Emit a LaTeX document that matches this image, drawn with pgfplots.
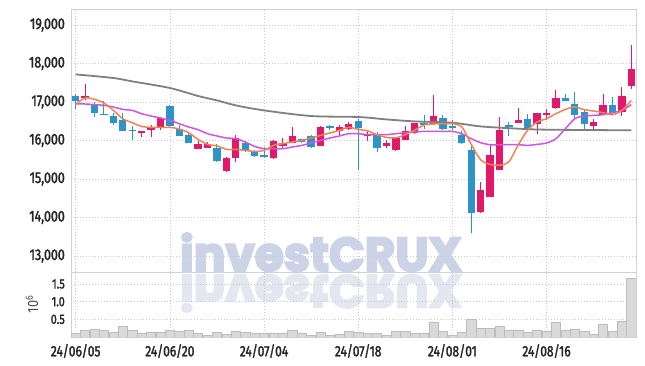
\documentclass[border=0pt]{standalone}
\usepackage{pgfplots}
\pgfplotsset{compat=1.18}
\usepackage{pgfplotstable}
\usepackage{graphicx}
\usepackage{fontspec}
\setmainfont{Fira Sans}[FakeStretch=0.8, FakeBold=2]
\newfontfamily\wmfont{Poppins}[FakeBold=4.5]
\newfontfamily\lightfont{Fira Sans}[FakeStretch=0.85]
\definecolor{upc}{HTML}{E2196B}
\definecolor{dnc}{HTML}{2E93C7}
\definecolor{maS}{HTML}{EE8550}
\definecolor{maM}{HTML}{CC55E6}
\definecolor{maL}{HTML}{808080}
\definecolor{gridc}{HTML}{C3C8DA}
\definecolor{wm}{HTML}{CDD3E7}
\definecolor{wmr}{HTML}{E5E7F0}
\definecolor{volf}{HTML}{D9D9D9}
\definecolor{vold}{HTML}{BDBDBD}
\definecolor{axc}{HTML}{D2D2D6}

\pgfplotstableread{
x o h l c
1 17111 17457 17060 17156
7 16203 16255 16091 16255
8 16263 16392 16081 16351
9 16325 16610 16263 16592
13 15787 15977 15769 15917
14 15813 15960 15813 15917
16 15208 15572 15172 15545
17 15545 16133 15441 16065
21 15553 16003 15527 15977
22 15847 16065 15805 15943
23 15925 16351 15925 16117
26 15857 16366 15847 16351
28 16255 16410 16133 16359
29 16307 16481 16263 16418
31 16107 16237 15987 16159
33 15847 16021 15813 15935
34 15761 16091 15725 16073
35 16021 16366 16003 16247
36 16195 16455 16177 16455
38 16418 17171 16392 16636
43 14135 14930 14109 14714
44 14541 15873 14524 15613
45 15242 16610 15242 16281
47 16455 16844 16455 16541
49 16418 16722 16159 16722
50 16670 16826 16533 16722
51 16852 17301 16826 17104
55 16366 16566 16247 16481
56 16653 17216 16653 16930
58 16730 17390 16636 17145
59 17405 18483 17345 17847
}\upc

\pgfplotstableread{
x o h l c
0 17156 17197 16826 17034
2 16948 17000 16610 16704
3 16696 17026 16652 16652
4 16636 16722 16410 16462
5 16540 16714 16236 16236
6 16255 16366 16013 16236
10 16886 16930 16351 16377
11 16307 16392 16117 16117
12 16151 16203 15925 15925
15 15813 15900 15440 15457
18 15935 15977 15701 15761
19 15701 15743 15570 15587
20 15613 15831 15545 15572
24 16029 16047 15935 15961
25 16117 16133 15805 15831
27 16351 16410 16263 16325
30 16507 16566 15243 16333
32 16177 16221 15700 15795
37 16437 16652 16307 16411
39 16592 16652 16281 16307
40 16367 16524 16273 16315
41 16133 16247 15917 15935
42 15744 15873 13587 14117
46 16385 16481 16117 16351
48 16566 16678 16238 16281
52 17112 17197 17016 17016
53 16956 17260 16584 16652
54 16740 16826 16247 16418
57 16930 17130 16653 16714
}\dnc

\pgfplotstableread{
x y
0 16948
1 17104
2 17068
3 16974
4 16782
5 16566
6 16462
7 16366
8 16340
9 16340
10 16340
11 16300
12 16200
13 16030
14 15900
15 15860
16 15769
17 15769
18 15743
19 15717
20 15743
21 15873
22 15917
23 15961
24 16003
25 16065
26 16133
27 16195
28 16263
29 16340
30 16290
31 16250
32 16150
33 16080
34 16070
35 16150
36 16270
37 16400
38 16430
39 16436
40 16436
41 16351
42 15900
43 15500
44 15380
45 15360
46 15450
47 15890
48 16270
49 16481
50 16566
51 16696
52 16808
53 16870
54 16800
55 16766
56 16722
57 16670
58 16782
59 17042
}\maS

\pgfplotstableread{
x y
0 16948
1 16948
2 16930
3 16912
4 16870
5 16808
6 16782
7 16696
8 16636
9 16584
10 16522
11 16437
12 16351
13 16281
14 16177
15 16117
16 16065
17 16047
18 15961
19 15847
20 15787
21 15787
22 15787
23 15831
24 15873
25 15935
26 16003
27 16065
28 16117
29 16177
30 16177
31 16151
32 16151
33 16151
34 16177
35 16203
36 16221
37 16237
38 16237
39 16237
40 16237
41 16177
42 16047
43 15943
44 15891
45 15891
46 15891
47 15891
48 15873
49 15899
50 15935
51 16047
52 16307
53 16566
54 16636
55 16652
56 16670
57 16722
58 16782
59 16930
}\maM

\pgfplotstableread{
x y
0 17717
4 17623
6 17536
10 17364
13 17156
15 17042
17 16912
20 16782
25 16636
30 16610
33 16548
36 16496
40 16462
43 16366
47 16307
50 16281
59 16265
}\maL

\pgfplotstableread{
x v
0 0.12
1 0.18
2 0.23
3 0.18
4 0.14
5 0.31
6 0.18
7 0.12
8 0.14
9 0.14
10 0.20
11 0.15
12 0.18
13 0.12
14 0.04
15 0.14
16 0.08
17 0.17
18 0.14
19 0.12
20 0.12
21 0.12
22 0.12
23 0.20
24 0.12
25 0.05
26 0.13
27 0.05
28 0.09
29 0.16
30 0.14
31 0.10
32 0.10
33 0.05
34 0.16
35 0.16
36 0.12
37 0.12
38 0.42
39 0.16
40 0.05
41 0.14
42 0.51
43 0.25
44 0.25
45 0.31
46 0.20
47 0.20
48 0.14
49 0.20
50 0.17
51 0.42
52 0.20
53 0.23
54 0.17
55 0.08
56 0.37
57 0.17
58 0.45
59 1.67
}\vol

\pgfplotsset{
  common/.style={
    scale only axis, width=565bp,
    xmin=-0.5, xmax=59.5,
    xtick={0,10,20,30,40,50},
    grid=major,
    major grid style={draw=gridc, line width=0.7bp, dash pattern=on 1bp off 2bp},
    major tick length=0pt,
    axis line style={draw=axc, line width=0.8bp},
    clip mode=individual,
  },
  wick/.style={forget plot, draw=none, mark=none,
    error bars/.cd, y dir=plus, y explicit, error mark=none,
    error bar style={draw=#1, line width=1bp}},
  body/.style={forget plot, draw=none, mark=none,
    error bars/.cd, y dir=plus, y explicit, error mark=none,
    error bar style={draw=#1, line width=7.3bp}},
}

\begin{document}
\begin{tikzpicture}
\useasboundingbox (0,0) rectangle (645bp,366bp);
\node[anchor=base, inner sep=0pt, text=wm] at (321bp,95bp)
  {\resizebox{282bp}{38bp}{\wmfont\bfseries investCRUX}};
\node[anchor=base, inner sep=0pt, text=wmr] at (321bp,91bp)
  {\scalebox{1}[-1]{\resizebox{282bp}{37bp}{\wmfont\bfseries investCRUX}}};

\begin{axis}[common,
  at={(71bp,94bp)}, anchor=south west, height=263bp,
  ymin=12584, ymax=19416,
  ytick={13000,14000,15000,16000,17000,18000,19000},
  scaled y ticks=false,
  xticklabels={},
  yticklabel style={font=\fontsize{15.5bp}{16bp}\selectfont, text=black!85, inner sep=0pt, xshift=-6bp,
    /pgf/number format/.cd, fixed, 1000 sep={,}, assume math mode=true},
]
\addplot[wick=upc] table[x=x, y=l, y error plus expr={\thisrow{h}-\thisrow{l}}] {\upc};
\addplot[wick=dnc] table[x=x, y=l, y error plus expr={\thisrow{h}-\thisrow{l}}] {\dnc};
\addplot[body=upc] table[x=x, y expr={min(\thisrow{o},\thisrow{c})}, y error plus expr={max(abs(\thisrow{c}-\thisrow{o}),40)}] {\upc};
\addplot[body=dnc] table[x=x, y expr={min(\thisrow{o},\thisrow{c})}, y error plus expr={max(abs(\thisrow{c}-\thisrow{o}),40)}] {\dnc};
\addplot[maL, line width=1.8bp, smooth, no marks] table[x=x, y=y] {\maL};
\addplot[maM, line width=1.5bp, smooth, no marks] table[x=x, y=y] {\maM};
\addplot[maS, line width=1.5bp, smooth, no marks] table[x=x, y=y] {\maS};
\end{axis}

\begin{axis}[common,
  at={(71bp,29bp)}, anchor=south west, height=65bp,
  ymin=0, ymax=1.84,
  ytick={0.5,1,1.5},
  xticklabels={24/06/05,24/06/20,24/07/04,24/07/18,24/08/01,24/08/16},
  xticklabel style={font=\fontsize{15bp}{16bp}\selectfont, text=black!85, inner sep=0pt, yshift=-7bp},
  yticklabel style={font=\fontsize{13.5bp}{14bp}\selectfont, text=black!85, inner sep=0pt, xshift=-6bp,
    /pgf/number format/.cd, fixed, fixed zerofill, precision=1, assume math mode=true},
]
\addplot[ybar, bar width=9.2bp, fill=volf, draw=vold, line width=0.5bp] table[x=x, y=v] {\vol};
\node[rotate=90, inner sep=0pt, font=\lightfont\fontsize{15bp}{16bp}\selectfont, text=black!70]
  at ([xshift=-39bp]rel axis cs:0,0.5) {10\textsuperscript{6}};
\end{axis}
\end{tikzpicture}
\end{document}
